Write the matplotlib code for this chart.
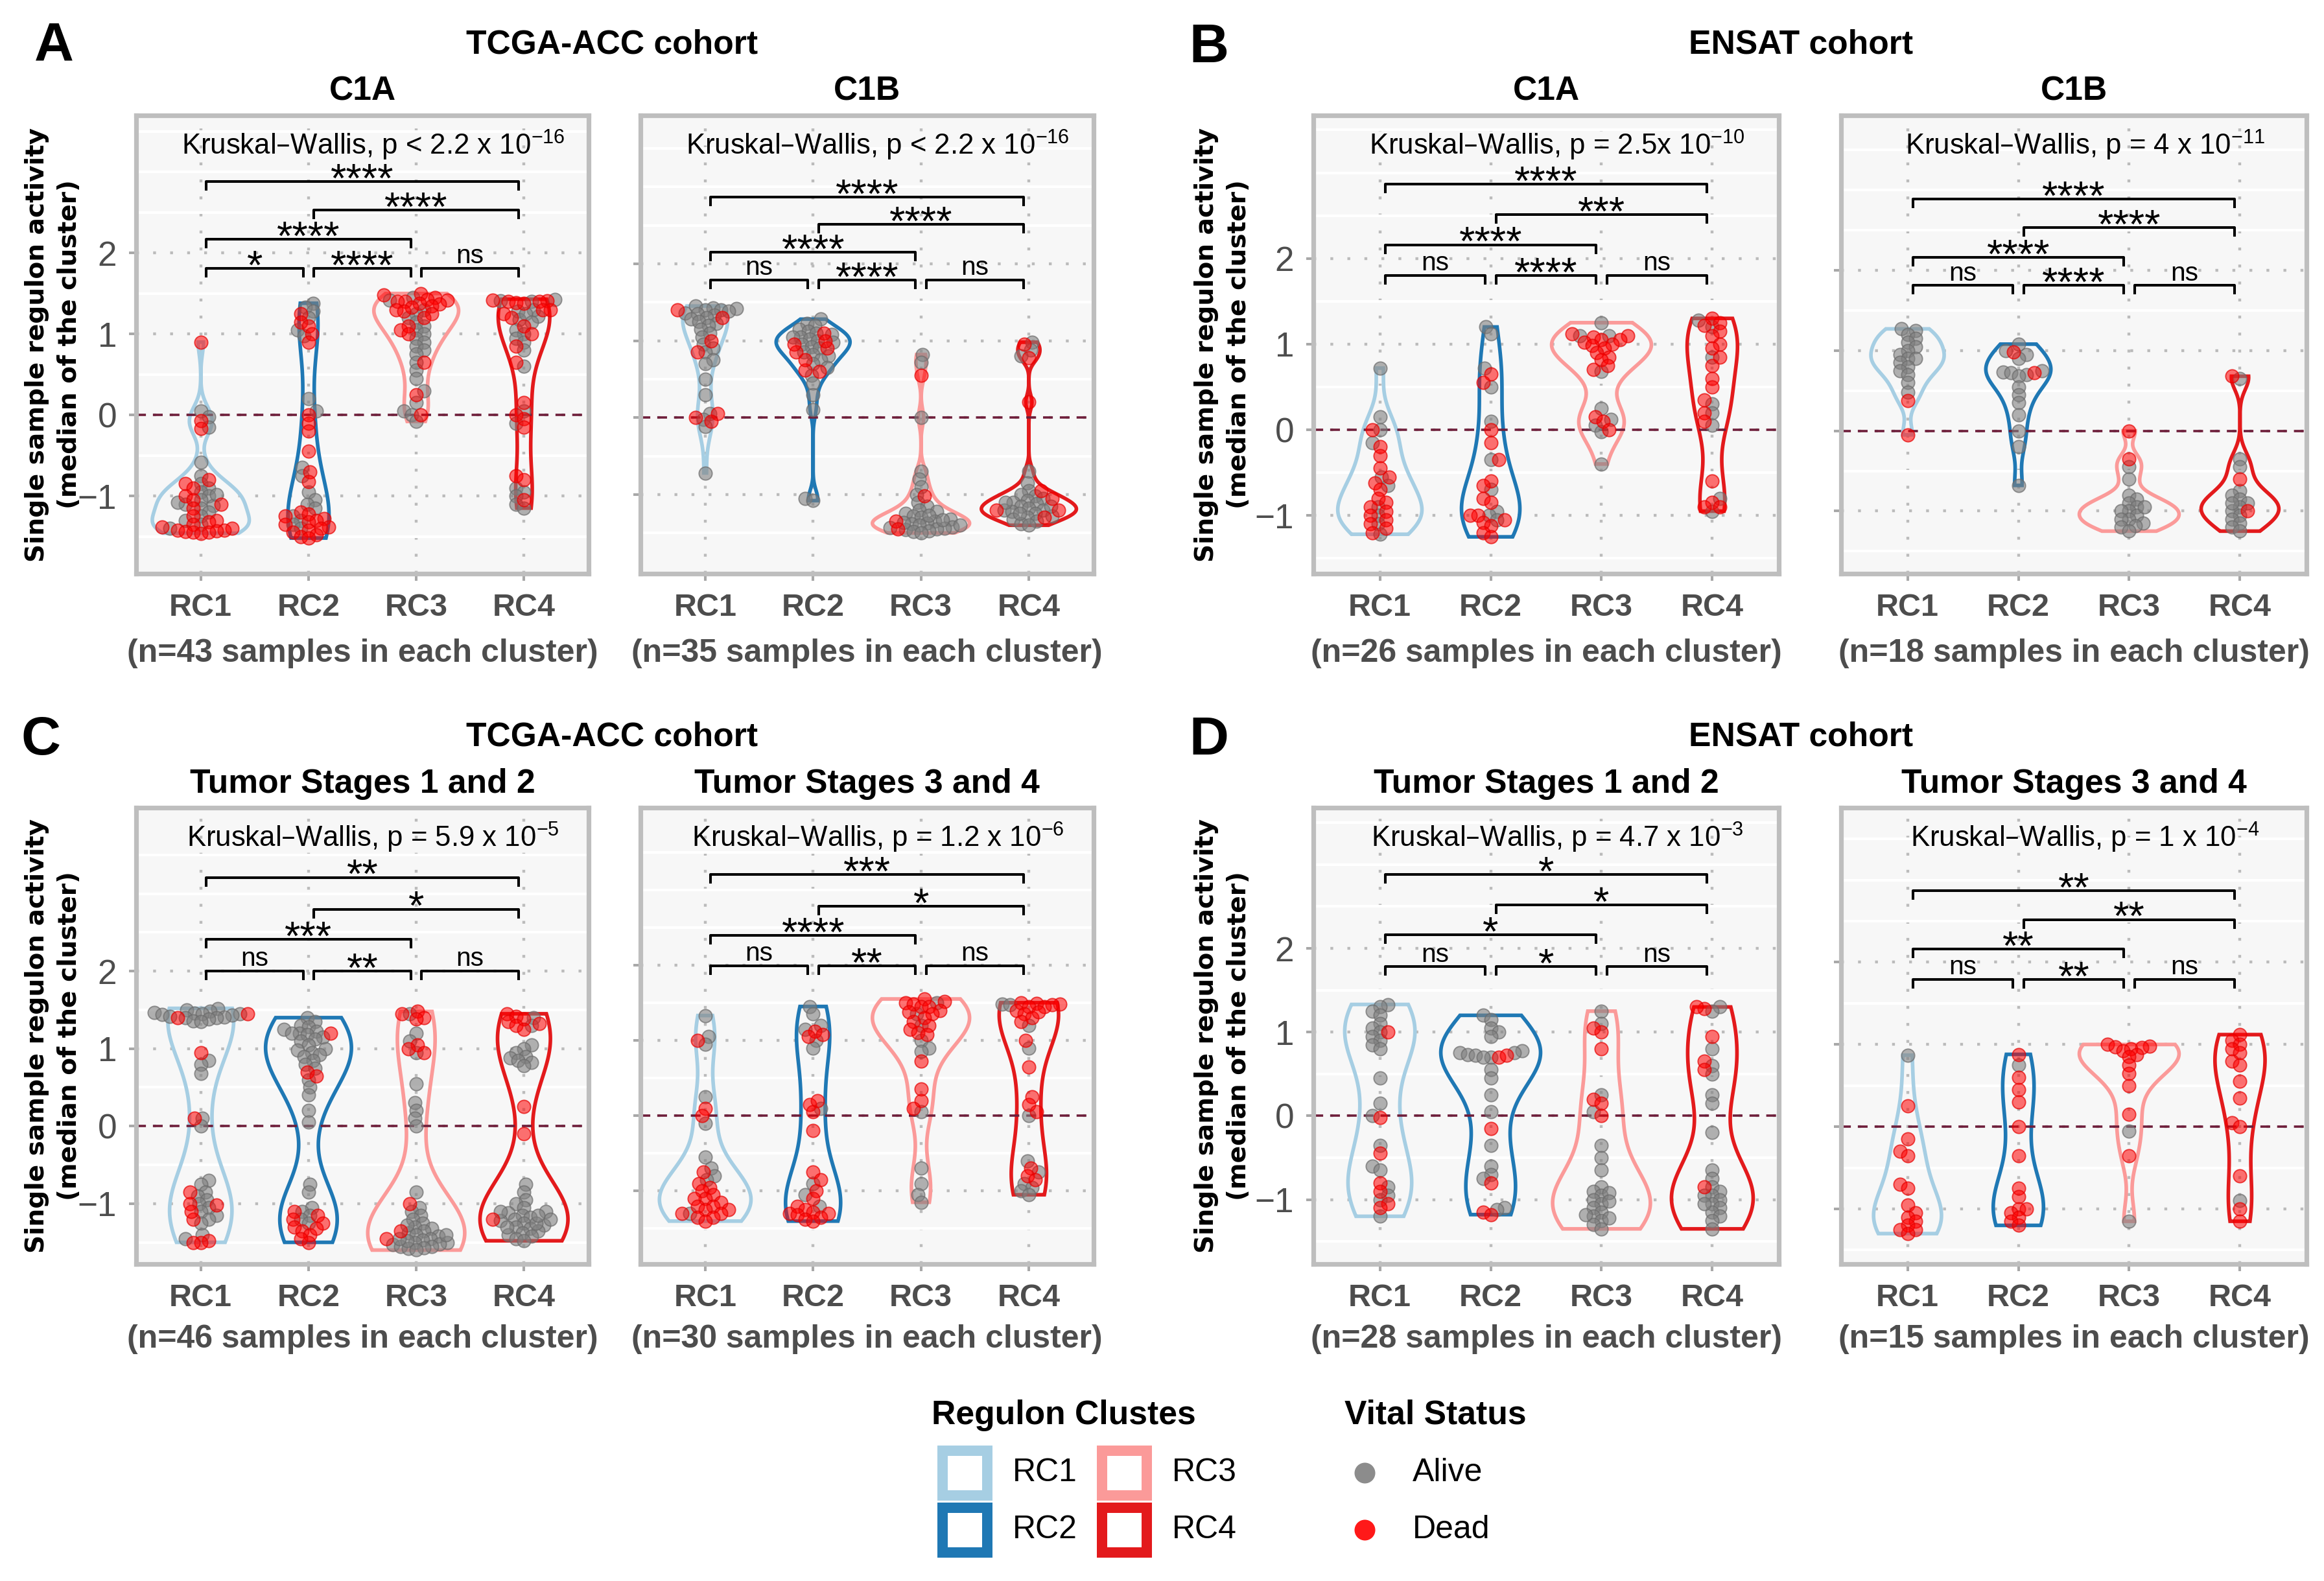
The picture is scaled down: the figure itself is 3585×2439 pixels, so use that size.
import numpy as np
import matplotlib.pyplot as plt
from matplotlib.patches import Rectangle

plt.rcParams['font.family'] = ['Liberation Sans', 'DejaVu Sans']
plt.rcParams['mathtext.default'] = 'regular'

#figure size in pixels
W, H = 3585, 2439
DPI = 225

#clusters and vital status
clusters = ['RC1', 'RC2', 'RC3', 'RC4']
cluster_colors = ['#A6CEE3', '#1F78B4', '#FB9A99', '#E31A1C']
vital_labels = ['Alive', 'Dead']
vital_colors = ['#808080', '#FF0000']

#pairwise comparisons, in the order the brackets are stacked
comparisons = [(1, 2), (2, 3), (3, 4), (1, 3), (2, 4), (1, 4)]

#TCGA-ACC, C1A (n=43)
tcga_c1a_alive = [
    [0.05, -0.02, -0.15, -0.58, -0.75, -0.85, -0.9, -0.95, -1.0, -1.05, -1.1, -1.12, -1.15, -1.2, -1.25, -1.3, -1.35, -1.4, -0.98, -1.08],
    [1.38, 1.33, 1.28, 1.2, 1.05, 0.98, 0.2, 0.05, -0.65, -0.75, -0.95, -1.05, -1.1, -1.15, -1.25, -1.3, -1.35, -1.4],
    [1.45, 1.42, 1.3, 1.25, 1.2, 1.15, 1.1, 1.05, 1.0, 0.95, 0.9, 0.85, 0.8, 0.75, 0.65, 0.55, 0.45, 0.3, 0.15, 0.05, 0.0, -0.08],
    [1.43, 1.41, 1.4, 1.28, 1.22, 1.18, 1.3, 1.25, 1.15, 1.05, 1.0, 0.95, 0.9, 0.8, 0.6, 0.05, -0.1, -0.9, -0.95, -1.0, -1.1, -1.15]]
tcga_c1a_dead = [
    [0.9, -0.07, -0.17, -0.8, -0.85, -0.9, -1.0, -1.05, -1.1, -1.15, -1.25, -1.3, -1.32, -1.35, -1.4, -1.42, -1.42, -1.43, -1.44, -1.45, -1.45, -1.46, -1.38],
    [1.25, 1.15, 1.1, 1.0, 0.9, 0.0, -0.1, -0.2, -0.45, -0.7, -0.82, -1.2, -1.22, -1.25, -1.28, -1.3, -1.32, -1.35, -1.38, -1.4, -1.42, -1.45, -1.48, -1.5, -1.52],
    [1.5, 1.48, 1.45, 1.43, 1.42, 1.4, 1.4, 1.38, 1.37, 1.35, 1.33, 1.3, 1.28, 1.25, 1.2, 1.1, 1.05, 1.0, 0.65, 0.25, 0.0],
    [1.42, 1.41, 1.4, 1.4, 1.39, 1.38, 1.3, 1.25, 1.3, 1.2, 1.1, 1.0, 0.85, 0.65, 0.15, 0.0, -0.05, -0.15, -0.75, -0.8, -1.05]]
tcga_c1a_signif = ['*', '****', 'ns', '****', '****', '****']

#TCGA-ACC, C1B (n=35)
tcga_c1b_alive = [
    [1.45, 1.43, 1.42, 1.4, 1.4, 1.38, 1.36, 1.35, 1.33, 1.3, 1.28, 1.25, 1.22, 1.2, 1.15, 1.1, 1.05, 0.95, 0.9, 0.85, 0.75, 0.7, 0.5, 0.3, 0.05, -0.02, -0.12, -0.72],
    [1.28, 1.22, 1.2, 1.15, 1.12, 1.1, 1.08, 1.05, 1.05, 1.02, 1.0, 0.98, 0.95, 0.92, 0.9, 0.85, 0.82, 0.8, 0.75, 0.7, 0.65, 0.55, 0.45, 0.3, 0.1, -1.05, -1.08],
    [0.82, 0.72, 0.0, -0.7, -0.8, -0.9, -1.0, -1.1, -1.15, -1.2, -1.22, -1.25, -1.28, -1.3, -1.32, -1.35, -1.37, -1.38, -1.4, -1.42, -1.43, -1.44, -1.45, -1.46, -1.47, -1.48, -1.5, -1.36, -1.4, -1.33, -1.27],
    [0.98, 0.88, 0.8, -0.7, -0.85, -0.95, -1.0, -1.02, -1.05, -1.08, -1.1, -1.12, -1.15, -1.18, -1.2, -1.2, -1.22, -1.25, -1.28, -1.3, -1.32, -1.35, -1.38, -1.4, -1.1, -1.15, -1.25]]
tcga_c1b_dead = [
    [1.4, 1.3, 1.0, 0.85, 0.05, 0.0, -0.05],
    [1.1, 0.9, 0.85, 0.62, 0.6, 1.0, 0.75, 0.95],
    [0.55, -1.02, -1.35, -1.45],
    [0.78, 0.2, -0.95, -1.2, -1.2, -1.3, 0.95, -1.05]]
tcga_c1b_signif = ['ns', '****', 'ns', '****', '****', '****']

#ENSAT, C1A (n=26)
ensat_c1a_alive = [
    [0.72, 0.15, 0.0, -0.15, -0.55, -0.65, -0.9, -1.0, -1.1, -1.22],
    [1.2, 1.12, 0.72, 0.5, 0.1, -0.35, -0.7, -0.95, -1.0, -1.05],
    [1.25, 1.1, 1.1, 0.68, 0.25, 0.12, 0.05, -0.02, -0.4],
    [1.28, 1.2, 0.85, 0.3, 0.2, 0.05, -0.8, -0.95]]
ensat_c1a_dead = [
    [0.0, -0.2, -0.3, -0.45, -0.55, -0.62, -0.7, -0.8, -0.85, -0.9, -0.95, -1.0, -1.05, -1.1, -1.15, -1.2],
    [0.65, 0.55, 0.0, -0.15, -0.35, -0.6, -0.65, -0.8, -0.85, -1.0, -1.0, -1.05, -1.08, -1.12, -1.2, -1.25],
    [1.12, 1.1, 1.08, 1.05, 1.05, 1.02, 1.0, 0.98, 0.95, 0.9, 0.85, 0.82, 0.75, 0.7, 0.15, 0.1, 0.0],
    [1.3, 1.25, 1.22, 1.15, 1.1, 1.0, 0.95, 0.85, 0.75, 0.6, 0.5, 0.35, 0.2, 0.1, -0.6, -0.85, -0.9, -0.9]]
ensat_c1a_signif = ['ns', '****', 'ns', '****', '***', '****']

#ENSAT, C1B (n=18)
ensat_c1b_alive = [
    [1.27, 1.25, 1.2, 1.15, 1.1, 1.05, 1.0, 0.95, 0.9, 0.9, 0.85, 0.8, 0.75, 0.7, 0.6, 0.48],
    [1.08, 1.0, 0.95, 0.9, 0.75, 0.73, 0.72, 0.7, 0.68, 0.55, 0.45, 0.35, 0.2, 0.0, -0.2, -0.68],
    [-0.45, -0.6, -0.8, -0.85, -0.9, -0.95, -1.0, -1.0, -1.05, -1.1, -1.1, -1.15, -1.18, -1.2, -1.25, -0.95],
    [0.65, -0.35, -0.45, -0.75, -0.8, -0.85, -0.9, -0.95, -1.0, -1.05, -1.1, -1.15, -1.2, -1.25, -0.9]]
ensat_c1b_dead = [
    [0.38, -0.05],
    [0.98, 0.72],
    [0.0, -0.35],
    [0.68, -0.6, -1.0]]
ensat_c1b_signif = ['ns', '****', 'ns', '****', '****', '****']

#TCGA-ACC, tumor stages 1 and 2 (n=46)
tcga_s12_alive = [
    [1.52, 1.5, 1.48, 1.47, 1.46, 1.45, 1.45, 1.44, 1.43, 1.42, 1.41, 1.4, 1.4, 1.38, 1.36, 1.35, 0.85, 0.8, 0.68, 0.1, 0.0, -0.7, -0.75, -0.85, -0.9, -0.95, -1.0, -1.05, -1.1, -1.15, -1.2, -1.25, -1.4, -1.45],
    [1.4, 1.35, 1.3, 1.28, 1.25, 1.22, 1.2, 1.2, 1.18, 1.15, 1.12, 1.1, 1.05, 1.0, 0.98, 0.95, 0.92, 0.9, 0.85, 0.8, 0.75, 0.6, 0.5, 0.4, 0.2, 0.05, -0.75, -0.85, -1.05, -1.1, -1.15, -1.2, -1.25],
    [1.45, 1.2, 1.1, 0.95, 0.55, 0.3, 0.2, 0.1, 0.0, -0.85, -1.05, -1.1, -1.15, -1.2, -1.25, -1.3, -1.32, -1.35, -1.38, -1.4, -1.42, -1.45, -1.47, -1.5, -1.5, -1.52, -1.53, -1.55, -1.55, -1.57, -1.58, -1.6, -1.48, -1.45, -1.4, -1.28],
    [1.4, 1.3, 1.05, 1.0, 0.95, 0.9, 0.88, 0.85, 0.82, 0.78, -0.75, -0.85, -0.95, -1.0, -1.05, -1.1, -1.12, -1.15, -1.18, -1.2, -1.22, -1.25, -1.28, -1.3, -1.32, -1.35, -1.38, -1.4, -1.42, -1.45, -1.48, -1.2, -1.25, -1.15, -1.3, -1.1]]
tcga_s12_dead = [
    [1.45, 0.95, 0.1, -0.85, -1.0, -1.02, -1.2, -1.48, -1.5, -1.5, 1.4, -1.1],
    [1.2, 0.7, 0.65, -1.1, -1.15, -1.2, -1.25, -1.3, -1.35, -1.4, -1.5, -1.45, -1.32],
    [1.48, 1.4, 1.05, 1.0, 0.95, -1.0, -1.35, 1.38, 1.45, -1.45],
    [1.45, 1.42, 1.35, 1.3, 0.25, -0.1, -1.2, 1.38, 1.32, 1.25]]
tcga_s12_signif = ['ns', '**', 'ns', '***', '*', '**']

#TCGA-ACC, tumor stages 3 and 4 (n=30)
tcga_s34_alive = [
    [1.33, 1.05, 0.95, 0.25, -0.1, -0.55, -0.7, -0.8, -0.85, -1.3],
    [1.45, 1.35, 1.2, 1.15, 1.0, 0.9, 0.1, -0.9, -1.05, -1.2],
    [1.5, 1.35, 1.2, 1.0, 0.9, 0.85, 0.05, -0.7, -0.9, -1.05, -1.15],
    [1.48, 1.47, 1.2, 0.9, 0.0, -0.6, -0.75, -0.9, -0.95, -1.0, -1.05]]
tcga_s34_dead = [
    [1.0, 0.1, 0.0, -0.75, -0.9, -0.95, -1.0, -1.05, -1.1, -1.1, -1.15, -1.2, -1.2, -1.25, -1.25, -1.3, -1.3, -1.35, -1.35, -1.4],
    [1.12, 1.08, 1.05, 0.15, 0.05, -0.2, -0.75, -0.85, -1.0, -1.1, -1.2, -1.25, -1.28, -1.3, -1.3, -1.32, -1.35, -1.38, -1.4, 0.2],
    [1.55, 1.52, 1.5, 1.48, 1.45, 1.45, 1.4, 1.38, 1.35, 1.3, 1.25, 1.2, 1.15, 1.1, 1.08, 0.72, 0.35, 0.2, 0.1],
    [1.5, 1.49, 1.48, 1.47, 1.45, 1.45, 1.4, 1.35, 1.25, 1.0, 0.65, 0.25, 0.15, 0.05, -0.7, -0.8, -0.85, 1.3, 1.38]]
tcga_s34_signif = ['ns', '**', 'ns', '****', '*', '***']

#ENSAT, tumor stages 1 and 2 (n=28)
ensat_s12_alive = [
    [1.33, 1.3, 1.25, 1.2, 1.1, 1.05, 1.0, 0.95, 0.9, 0.85, 0.8, 0.45, 0.15, 0.0, -0.35, -0.6, -0.65, -0.85, -0.95, -1.0, -1.2],
    [1.2, 1.15, 1.05, 1.0, 0.95, 0.78, 0.75, 0.75, 0.73, 0.72, 0.7, 0.7, 0.55, 0.45, 0.25, 0.05, -0.35, -0.6, -0.7, -0.75, -1.1, -1.12],
    [1.25, 1.1, 0.25, 0.05, -0.35, -0.5, -0.65, -0.85, -0.9, -0.95, -1.0, -1.05, -1.1, -1.15, -1.2, -1.25, -1.3, -1.35, -0.92, -1.02, -1.22, -1.18],
    [1.3, 1.25, 0.8, 0.6, 0.5, 0.25, 0.15, -0.2, -0.65, -0.75, -0.85, -0.9, -0.95, -1.0, -1.05, -1.1, -1.15, -1.2, -1.25, -1.35, -0.95, -1.05]]
ensat_s12_dead = [
    [-0.02, -0.45, -0.8, -1.05, -1.1, 1.0, -0.9],
    [0.7, -0.15, -0.8, -1.15, -1.18, 0.72],
    [1.0, 0.8, 0.2, 0.15, 1.05, 0.0],
    [1.28, 0.95, 0.65, -0.85, 0.55, 1.3]]
ensat_s12_signif = ['ns', '*', 'ns', '*', '*', '*']

#ENSAT, tumor stages 3 and 4 (n=15)
ensat_s34_alive = [
    [0.87],
    [0.75],
    [-0.05, -1.15],
    [-0.9]]
ensat_s34_dead = [
    [0.25, -0.15, -0.3, -0.35, -0.7, -0.75, -0.95, -1.05, -1.1, -1.15, -1.2, -1.25, -1.25, -1.3],
    [0.88, 0.6, 0.45, 0.3, 0.0, -0.35, -0.75, -0.85, -1.0, -1.0, -1.05, -1.1, -1.15, -1.2],
    [1.0, 0.98, 0.97, 0.96, 0.95, 0.92, 0.88, 0.85, 0.75, 0.65, 0.5, 0.15, -0.35],
    [1.12, 1.05, 1.0, 0.95, 0.9, 0.8, 0.75, 0.55, 0.35, 0.05, 0.0, -0.6, -1.0, -1.15]]
ensat_s34_signif = ['ns', '**', 'ns', '**', '**', '**']


#panel layout: box in pixels (left, top, right, bottom), y limits, bracket heights
panels = [
    dict(alive=tcga_c1a_alive, dead=tcga_c1a_dead, signif=tcga_c1a_signif, n=43, title='C1A',
         kw='p < 2.2 x 10$^{-16}$', box=(210, 178, 908, 885), ylim=(-1.96, 3.70), br=(1.81, 2.17, 2.53, 2.88), ylab=True),
    dict(alive=tcga_c1b_alive, dead=tcga_c1b_dead, signif=tcga_c1b_signif, n=35, title='C1B',
         kw='p < 2.2 x 10$^{-16}$', box=(988, 178, 1687, 885), ylim=(-2.03, 3.93), br=(1.79, 2.15, 2.51, 2.87), ylab=False),
    dict(alive=ensat_c1a_alive, dead=ensat_c1a_dead, signif=ensat_c1a_signif, n=26, title='C1A',
         kw='p = 2.5x 10$^{-10}$', box=(2026, 178, 2744, 885), ylim=(-1.68, 3.67), br=(1.80, 2.16, 2.51, 2.87), ylab=True),
    dict(alive=ensat_c1b_alive, dead=ensat_c1b_dead, signif=ensat_c1b_signif, n=18, title='C1B',
         kw='p = 4 x 10$^{-11}$', box=(2840, 178, 3558, 885), ylim=(-1.78, 3.93), br=(1.81, 2.16, 2.53, 2.89), ylab=False),
    dict(alive=tcga_s12_alive, dead=tcga_s12_dead, signif=tcga_s12_signif, n=46, title='Tumor Stages 1 and 2',
         kw='p = 5.9 x 10$^{-5}$', box=(210, 1246, 908, 1950), ylim=(-1.78, 4.11), br=(2.0, 2.41, 2.80, 3.21), ylab=True),
    dict(alive=tcga_s34_alive, dead=tcga_s34_dead, signif=tcga_s34_signif, n=30, title='Tumor Stages 3 and 4',
         kw='p = 1.2 x 10$^{-6}$', box=(988, 1246, 1687, 1950), ylim=(-1.97, 4.09), br=(1.99, 2.39, 2.78, 3.20), ylab=False),
    dict(alive=ensat_s12_alive, dead=ensat_s12_dead, signif=ensat_s12_signif, n=28, title='Tumor Stages 1 and 2',
         kw='p = 4.7 x 10$^{-3}$', box=(2026, 1246, 2744, 1950), ylim=(-1.77, 3.68), br=(1.78, 2.16, 2.52, 2.88), ylab=True),
    dict(alive=ensat_s34_alive, dead=ensat_s34_dead, signif=ensat_s34_signif, n=15, title='Tumor Stages 3 and 4',
         kw='p = 1 x 10$^{-4}$', box=(2840, 1246, 3558, 1950), ylim=(-1.67, 3.88), br=(1.79, 2.16, 2.52, 2.87), ylab=False),
]

#panel letters and cohort titles: (text, x, y) in pixels
letters = [('A', 83, 71), ('B', 1865, 74), ('C', 63, 1142), ('D', 1865, 1142)]
cohorts = [('TCGA-ACC cohort', 944, 69), ('ENSAT cohort', 2778, 69),
           ('TCGA-ACC cohort', 944, 1137), ('ENSAT cohort', 2778, 1137)]

XLIM = (0.4, 4.6)
GRAY_TXT = '#4D4D4D'
BORDER = '#BEBEBE'
PT_SIZE = 42      # marker area, points^2
GAP = 12.0        # min distance between swarm centres, pixels


def kde(vals, grid):
    """gaussian density with R's bw.nrd0 bandwidth"""
    v = np.asarray(vals, float)
    n = len(v)
    sd = v.std(ddof=1)
    q75, q25 = np.percentile(v, [75, 25])
    lo = min(sd, (q75 - q25) / 1.34) if q75 > q25 else sd
    bw = 0.9 * lo * n ** -0.2
    z = (grid[:, None] - v[None, :]) / bw
    return np.exp(-0.5 * z ** 2).sum(1) / (n * bw * np.sqrt(2 * np.pi))


def swarm(vals, ppx, ppy, gap):
    """beeswarm offsets (data units on x) for a list of y values"""
    vals = np.asarray(vals, float)
    order = np.argsort(vals, kind='stable')
    offs = np.zeros(len(vals))
    placed = []
    for cnt, i in enumerate(order):
        yp = vals[i] * ppy
        near = [(px, py) for px, py in placed if abs(py - yp) < gap]
        first = 1 if cnt % 2 == 0 else -1
        found = 0.0
        for k in range(300):
            done = False
            for sgn in ((1,) if k == 0 else (first, -first)):
                dx = sgn * k * gap * 0.2
                if all((dx - px) ** 2 + (yp - py) ** 2 >= gap ** 2 for px, py in near):
                    found = dx
                    done = True
                    break
            if done:
                break
        placed.append((found, yp))
        offs[i] = found / ppx
    return offs


fig = plt.figure(figsize=(W / DPI, H / DPI), dpi=DPI)

#overlay axes in pixel coordinates for all figure level text and the legend
over = fig.add_axes([0, 0, 1, 1])
over.set_xlim(0, W)
over.set_ylim(H, 0)
over.axis('off')

for p in panels:
    l, t, r, b = p['box']
    ax = fig.add_axes([l / W, 1 - b / H, (r - l) / W, (b - t) / H])
    ax.set_facecolor('#F7F7F7')
    ax.set_xlim(*XLIM)
    ax.set_ylim(*p['ylim'])
    ppx = (r - l) / (XLIM[1] - XLIM[0])
    ppy = (b - t) / (p['ylim'][1] - p['ylim'][0])

    #grid
    ax.set_yticks([-1, 0, 1, 2])
    ax.set_yticks([-1.5, -0.5, 0.5, 1.5, 2.5, 3.0, 3.5], minor=True)
    ax.set_xticks([1, 2, 3, 4])
    ax.grid(True, which='minor', axis='y', color='white', lw=1.3, zorder=0)
    ax.grid(True, which='major', color='#BBBBBB', ls=(0, (1, 5)), lw=1.4, zorder=0)
    ax.set_axisbelow(True)
    for s in ax.spines.values():
        s.set_color(BORDER)
        s.set_linewidth(2.3)
    ax.tick_params(which='major', length=3.5, width=1.3, color='#A8A8A8', pad=6)
    ax.tick_params(which='minor', length=0)
    ax.set_xticklabels(clusters, fontsize=15.5, fontweight='bold', color=GRAY_TXT)
    if p['ylab']:
        ax.set_yticklabels(['\u22121', '0', '1', '2'], fontsize=17, color=GRAY_TXT)
    else:
        ax.set_yticklabels([])

    #violins, scaled by area across the panel
    groups = [np.array(a + d) for a, d in zip(p['alive'], p['dead'])]
    grids = [np.linspace(g.min(), g.max(), 512) for g in groups]
    dens = [kde(g, gr) for g, gr in zip(groups, grids)]
    dmax = max(d.max() for d in dens)
    for k, (gr, d) in enumerate(zip(grids, dens)):
        hw = 0.45 * d / dmax
        xs = np.concatenate([k + 1 - hw, (k + 1 + hw)[::-1]])
        ys = np.concatenate([gr, gr[::-1]])
        ax.fill(xs, ys, facecolor='none', edgecolor=cluster_colors[k], lw=1.8, zorder=2)

    ax.axhline(0, color='#6E1E3A', ls=(0, (4.2, 3)), lw=1.15, zorder=2.5)

    #points
    for k in range(4):
        alive = p['alive'][k]
        dead = p['dead'][k]
        vals = alive + dead
        offs = swarm(vals, ppx, ppy, GAP)
        xs = k + 1 + offs
        na = len(alive)
        ax.scatter(xs[:na], alive, s=PT_SIZE, facecolor=(0.5, 0.5, 0.5, 0.6),
                   edgecolor=(0.42, 0.42, 0.42, 0.7), lw=0.6, zorder=3)
        ax.scatter(xs[na:], dead, s=PT_SIZE, facecolor=(1.0, 0.0, 0.0, 0.55),
                   edgecolor=(0.9, 0.0, 0.0, 0.7), lw=0.6, zorder=3.1)

    #significance brackets
    heights = [p['br'][0]] * 3 + list(p['br'][1:])
    tip = 12 / ppy
    for (i, j), y, lab in zip(comparisons, heights, p['signif']):
        x1, x2 = i + 0.05, j - 0.05
        ax.plot([x1, x1, x2, x2], [y - tip, y, y, y - tip], color='black', lw=1.3, zorder=4)
        if lab == 'ns':
            ax.annotate(lab, xy=((x1 + x2) / 2, y), xytext=(0, 2.5), textcoords='offset points',
                        ha='center', va='baseline', fontsize=13, zorder=4)
        else:
            ax.annotate(lab, xy=((x1 + x2) / 2, y), xytext=(0, -5), textcoords='offset points',
                        ha='center', va='baseline', fontsize=20, zorder=4)

    ax.text(2.6, 0.935, 'Kruskal\u2013Wallis, ' + p['kw'], transform=ax.get_xaxis_transform(),
            ha='center', va='center', fontsize=14)

    #titles and x label
    cx = (l + r) / 2
    over.text(cx, t - 37, p['title'], ha='center', va='center', fontsize=16.5, fontweight='bold')
    over.text(cx, b + 123 if t < 1000 else b + 116, '(n=%d samples in each cluster)' % p['n'],
              ha='center', va='center', fontsize=16, fontweight='bold', color=GRAY_TXT)
    if p['ylab']:
        xl = 82 if l < 1000 else 1886
        over.text(xl, (t + b) / 2, 'Single sample regulon activity\n(median of the cluster)',
                  rotation=90, ha='center', va='center', multialignment='center',
                  fontsize=12.5, fontweight='bold', family=['DejaVu Sans'], linespacing=1.4)

for txt, x, y in letters:
    over.text(x, y, txt, ha='center', va='center', fontsize=27, fontweight='bold')
for txt, x, y in cohorts:
    over.text(x, y, txt, ha='center', va='center', fontsize=16.5, fontweight='bold')

#legend: regulon clusters
over.text(1641, 2183, 'Regulon Clustes', ha='center', va='center', fontsize=16.5, fontweight='bold')
sq = 85
bw_px = 16
leg_pos = [(1488, 2272), (1488, 2360), (1734, 2272), (1734, 2360)]
for (x, y), name, col in zip(leg_pos, clusters, cluster_colors):
    side = sq - bw_px
    over.add_patch(Rectangle((x - side / 2, y - side / 2), side, side, facecolor='white',
                             edgecolor=col, lw=bw_px * 72 / DPI))
    over.text(x + 74, y, name, ha='left', va='center', fontsize=16)

#legend: vital status
over.text(2214, 2183, 'Vital Status', ha='center', va='center', fontsize=16.5, fontweight='bold')
for y, name, col in zip([2272, 2360], vital_labels, vital_colors):
    over.scatter([2105], [y], s=105, color=col, lw=0, alpha=0.9)
    over.text(2179, y, name, ha='left', va='center', fontsize=16)

fig.savefig('out.png', dpi=DPI)
